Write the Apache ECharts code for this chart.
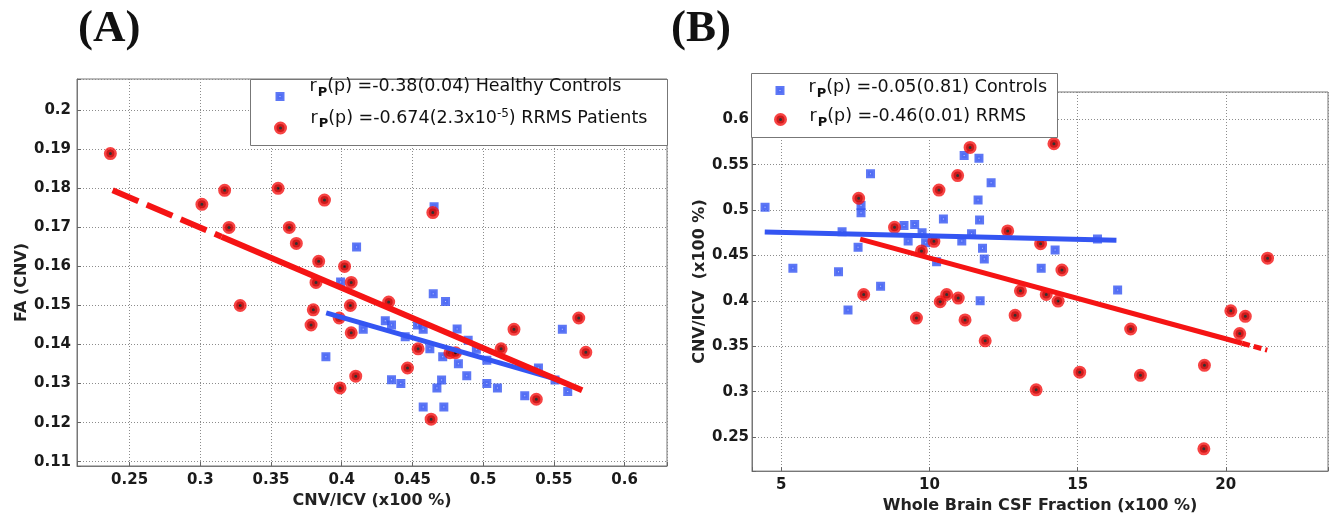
<!DOCTYPE html>
<html lang="en">
<head>
<meta charset="UTF-8">
<title>CNV scatter plots</title>
<script src="https://cdn.jsdelivr.net/npm/echarts@6/dist/echarts.min.js"></script>
<style>
  html, body { margin: 0; padding: 0; background: #fff; }
  #chart { width: 1334px; height: 519px; }
</style>
</head>
<body>
<div id="chart"></div>
<script>
// ---- panel A: FA(CNV) against CNV/ICV ----
var ctrlA_x = [0.4653, 0.4105, 0.3992, 0.4647, 0.4734, 0.4308, 0.4352, 0.4152, 0.4536, 0.4576, 0.4816,
               0.4894, 0.4449, 0.4952, 0.4623, 0.4714, 0.4825, 0.5026, 0.5391, 0.556, 0.5598, 0.5294,
               0.5101, 0.5026, 0.4884, 0.4706, 0.4673, 0.4352, 0.4418, 0.4576, 0.4722, 0.3888, 0.5508];
var ctrlA_y = [0.1753, 0.165, 0.156, 0.153, 0.151, 0.1461, 0.145, 0.1439, 0.145, 0.1439, 0.144,
               0.1411, 0.142, 0.1388, 0.1389, 0.1369, 0.1351, 0.136, 0.134, 0.1439, 0.128, 0.1269,
               0.1289, 0.13, 0.132, 0.1309, 0.1289, 0.131, 0.13, 0.124, 0.124, 0.1369, 0.1309];
var rrmsA_x = [0.2364, 0.3011, 0.3172, 0.3203, 0.3282, 0.355, 0.3629, 0.3679, 0.3878, 0.3837, 0.3818,
               0.3799, 0.3783, 0.402, 0.4067, 0.4061, 0.3982, 0.4067, 0.4099, 0.3988, 0.4332, 0.4465,
               0.454, 0.4644, 0.4632, 0.4765, 0.4805, 0.5127, 0.5218, 0.5376, 0.5676, 0.5726];
var rrmsA_y = [0.1889, 0.1759, 0.1795, 0.17, 0.15, 0.18, 0.17, 0.1659, 0.177, 0.1613, 0.1559,
               0.1489, 0.145, 0.16, 0.1559, 0.15, 0.1468, 0.143, 0.1319, 0.1289, 0.1509, 0.134,
               0.1389, 0.1738, 0.1209, 0.1379, 0.1379, 0.1389, 0.1439, 0.126, 0.1468, 0.138];
// fitted lines (end points); the first red piece is dashed
var fitCtrlA_x = [0.389, 0.554], fitCtrlA_y = [0.1481, 0.1309];
var fitRrmsA_x = [0.315, 0.570], fitRrmsA_y = [0.1676, 0.1283];
var fitRrmsA_dash_x = [0.238, 0.315], fitRrmsA_dash_y = [0.1795, 0.1676];

// ---- panel B: CNV/ICV against whole brain CSF fraction ----
var ctrlB_x = [4.45, 5.39, 6.93, 7.25, 7.69, 7.69, 7.59, 8.01, 8.35, 9.14, 9.50, 9.28, 9.87, 10.24, 10.47,
               11.09, 11.17, 11.67, 11.64, 11.69, 11.79, 11.85, 11.71, 12.08, 13.77, 14.24, 15.67, 16.35,
               7.05, 9.75, 11.42];
var ctrlB_y = [0.503, 0.436, 0.432, 0.39, 0.505, 0.497, 0.459, 0.54, 0.416, 0.483, 0.484, 0.466, 0.464, 0.443, 0.49,
               0.466, 0.56, 0.557, 0.511, 0.489, 0.458, 0.446, 0.40, 0.53, 0.436, 0.456, 0.468, 0.412,
               0.476, 0.475, 0.474];
var rrmsB_x = [7.61, 8.82, 7.78, 9.73, 10.15, 10.32, 10.95, 11.37, 10.36, 10.58, 10.97, 12.64, 13.75, 13.07,
               13.94, 14.34, 14.47, 14.2, 9.56, 11.2, 11.88, 12.89, 13.6, 15.07, 16.79, 17.12, 19.28, 19.26,
               20.17, 20.66, 20.47, 21.41];
var rrmsB_y = [0.513, 0.481, 0.407, 0.455, 0.4655, 0.522, 0.538, 0.569, 0.399, 0.407, 0.403, 0.477, 0.463, 0.411,
               0.407, 0.3997, 0.434, 0.573, 0.381, 0.379, 0.356, 0.384, 0.302, 0.3215, 0.369, 0.318, 0.329, 0.237,
               0.389, 0.383, 0.364, 0.447];
var fitCtrlB_x = [4.44, 16.31], fitCtrlB_y = [0.4757, 0.4666];
var fitRrmsB_x = [7.66, 20.55], fitRrmsB_y = [0.468, 0.3533];
var fitRrmsB_dash_x = [20.55, 21.4], fitRrmsB_dash_y = [0.3533, 0.3457];

// tick labels
var ticksXA = ['0.25', '0.3', '0.35', '0.4', '0.45', '0.5', '0.55', '0.6'];
var ticksYA = ['0.11', '0.12', '0.13', '0.14', '0.15', '0.16', '0.17', '0.18', '0.19', '0.2'];
var ticksXB = ['5', '10', '15', '20'];
var ticksYB = ['0.25', '0.3', '0.35', '0.4', '0.45', '0.5', '0.55', '0.6'];

var legendA = ['r_P(p) =-0.38(0.04) Healthy Controls', 'r_P(p) =-0.674(2.3x10^-5) RRMS Patients'];
var legendB = ['r_P(p) =-0.05(0.81) Controls', 'r_P(p) =-0.46(0.01) RRMS'];

var RED = '#f51414', BLUE = '#3455f2';
var FONT = 'DejaVu Sans';

function zip(xs, ys) {
    return xs.map(function (x, i) { return [x, ys[i]]; });
}

function tickFormatter(ticks) {
    return function (v) {
        for (var i = 0; i < ticks.length; i++) {
            if (Math.abs(+ticks[i] - v) < 1e-9) return ticks[i];
        }
        return '';
    };
}

function makeX(gridIndex, min, max, split, ticks, name, gap) {
    return {
        type: 'value', gridIndex: gridIndex, min: min, max: max, splitNumber: split,
        name: name, nameLocation: 'middle', nameGap: gap,
        nameTextStyle: { fontFamily: FONT, fontWeight: 'bold', fontSize: 16, color: '#222' },
        axisLine: { show: true, lineStyle: { color: '#777', width: 1 } },
        axisTick: { inside: true, length: 4, lineStyle: { color: '#666' } },
        axisLabel: { margin: 7, fontFamily: FONT, fontWeight: 'bold', fontSize: 15, color: '#1a1a1a',
                     formatter: tickFormatter(ticks) },
        splitLine: { show: true, lineStyle: { color: '#8c8c8c', type: [1, 2], width: 1 } }
    };
}

function makeY(gridIndex, min, max, split, ticks, name, gap, margin, namePad) {
    return {
        type: 'value', gridIndex: gridIndex, min: min, max: max, splitNumber: split,
        name: name, nameLocation: 'middle', nameGap: gap,
        nameTextStyle: { fontFamily: FONT, fontWeight: 'bold', fontSize: 16, color: '#222', padding: namePad },
        axisLine: { show: true, lineStyle: { color: '#777', width: 1 } },
        axisTick: { inside: true, length: 4, lineStyle: { color: '#666' } },
        axisLabel: { margin: margin, fontFamily: FONT, fontWeight: 'bold', fontSize: 15, color: '#1a1a1a',
                     formatter: tickFormatter(ticks) },
        splitLine: { show: true, lineStyle: { color: '#8c8c8c', type: [1, 2], width: 1 } }
    };
}

function lineSeries(name, gi, xs, ys, color, width, dash) {
    return {
        name: name, type: 'line', xAxisIndex: gi, yAxisIndex: gi,
        data: zip(xs, ys), symbol: 'none', silent: true,
        lineStyle: { color: color, width: width, type: dash || 'solid', cap: 'butt' }
    };
}

var ctrlStyle = { color: '#b4c0ff', borderColor: BLUE, borderWidth: 4 };
var rrmsStyle = { color: '#000', borderColor: RED, borderWidth: 5 };

function scatterSeries(name, gi, xs, ys, isCtrl) {
    return {
        name: name, type: 'scatter', xAxisIndex: gi, yAxisIndex: gi,
        data: zip(xs, ys), symbol: isCtrl ? 'rect' : 'circle', symbolSize: isCtrl ? 5 : 8,
        itemStyle: isCtrl ? ctrlStyle : rrmsStyle, silent: true
    };
}

// legend labels -> rich text with subscript P and superscript exponent
function richFor(s) {
    var H = 20 + 2 * s;
    return {
        first: { fontFamily: FONT, fontSize: 17.5, color: '#111', lineHeight: 20, padding: [0, 0, 2 * s, 0] },
        t: { fontFamily: FONT, fontSize: 17.5, color: '#111', lineHeight: 20, padding: [0, 0, 2 * s, 0] },
        sub: { fontFamily: FONT, fontSize: 13, fontWeight: 'bold', color: '#111', lineHeight: 14, padding: [9, 0, H - 23, 1] },
        sup: { fontFamily: FONT, fontSize: 12, color: '#111', lineHeight: 12, padding: [0, 0, H - 12, 0] }
    };
}

function richLabel(name) {
    var out = '{first|r}{sub|P}{t|' + name.slice(3);
    out = out.replace('^-5', '}{sup|-5}{t|');
    return out + '}';
}

function legendItem(name, isCtrl, left, top, shift, textPad) {
    var rich = richFor(shift);
    rich.first.padding = [0, 0, 2 * shift, textPad];
    return {
        data: [{ name: name, icon: isCtrl ? 'rect' : 'circle', itemStyle: isCtrl ? ctrlStyle : rrmsStyle }],
        orient: 'vertical', left: left, top: top, padding: 0,
        itemWidth: isCtrl ? 5 : 8, itemHeight: isCtrl ? 5 : 8,
        selectedMode: false,
        formatter: richLabel,
        textStyle: { fontFamily: FONT, fontSize: 17.5, color: '#111', rich: rich }
    };
}

var chart = echarts.init(document.getElementById('chart'), null, { renderer: 'canvas' });

var option = {
    animation: false,
    backgroundColor: '#fff',
    title: [
        { text: '(A)', left: 78, top: 7, padding: 0,
          textStyle: { fontFamily: 'Liberation Serif', fontWeight: 'bold', fontSize: 45, color: '#111' } },
        { text: '(B)', left: 671, top: 7, padding: 0,
          textStyle: { fontFamily: 'Liberation Serif', fontWeight: 'bold', fontSize: 45, color: '#111' } }
    ],
    grid: [
        { left: 77, top: 79, width: 590, height: 387, show: true, borderColor: '#777', borderWidth: 1, backgroundColor: '#fff' },
        { left: 752, top: 92, width: 576, height: 380, show: true, borderColor: '#777', borderWidth: 1, backgroundColor: '#fff' }
    ],
    xAxis: [
        makeX(0, 0.2128, 0.63, 8, ticksXA, 'CNV/ICV (x100 %)', 26),
        makeX(1, 4.01, 23.45, 4, ticksXB, 'Whole Brain CSF Fraction (x100 %)', 21)
    ],
    yAxis: [
        makeY(0, 0.1089, 0.208, 10, ticksYA, 'FA (CNV)', 47, 6, [0, 20, 0, 0]),
        makeY(1, 0.2125, 0.63, 8, ticksYB, 'CNV/ICV  (x100 %)', 43, 3, 0)
    ],
    legend: [
        legendItem(legendA[0], true, 275.5, 77, 10, 22),
        legendItem(legendA[1], false, 274, 108, 10, 21),
        legendItem(legendB[0], true, 775.5, 78, 3, 21),
        legendItem(legendB[1], false, 774, 107, 3, 20)
    ],
    graphic: [
        { type: 'rect', z: 3, shape: { x: 250.5, y: 79.5, width: 417, height: 66 },
          style: { fill: '#fff', stroke: '#777', lineWidth: 1 } },
        { type: 'rect', z: 3, shape: { x: 751.5, y: 73.5, width: 306, height: 64 },
          style: { fill: '#fff', stroke: '#777', lineWidth: 1 } }
    ],
    series: [
        lineSeries('fit ctrl A', 0, fitCtrlA_x, fitCtrlA_y, BLUE, 5),
        lineSeries('fit rrms A', 0, fitRrmsA_x, fitRrmsA_y, RED, 6),
        lineSeries('fit rrms A dashed', 0, fitRrmsA_dash_x, fitRrmsA_dash_y, RED, 6, [28, 9]),
        scatterSeries(legendA[0], 0, ctrlA_x, ctrlA_y, true),
        scatterSeries(legendA[1], 0, rrmsA_x, rrmsA_y, false),

        lineSeries('fit ctrl B', 1, fitCtrlB_x, fitCtrlB_y, BLUE, 5),
        lineSeries('fit rrms B', 1, fitRrmsB_x, fitRrmsB_y, RED, 5),
        lineSeries('fit rrms B dashed', 1, fitRrmsB_dash_x, fitRrmsB_dash_y, RED, 5, [8, 4]),
        scatterSeries(legendB[0], 1, ctrlB_x, ctrlB_y, true),
        scatterSeries(legendB[1], 1, rrmsB_x, rrmsB_y, false)
    ]
};

chart.setOption(option);
</script>
</body>
</html>
